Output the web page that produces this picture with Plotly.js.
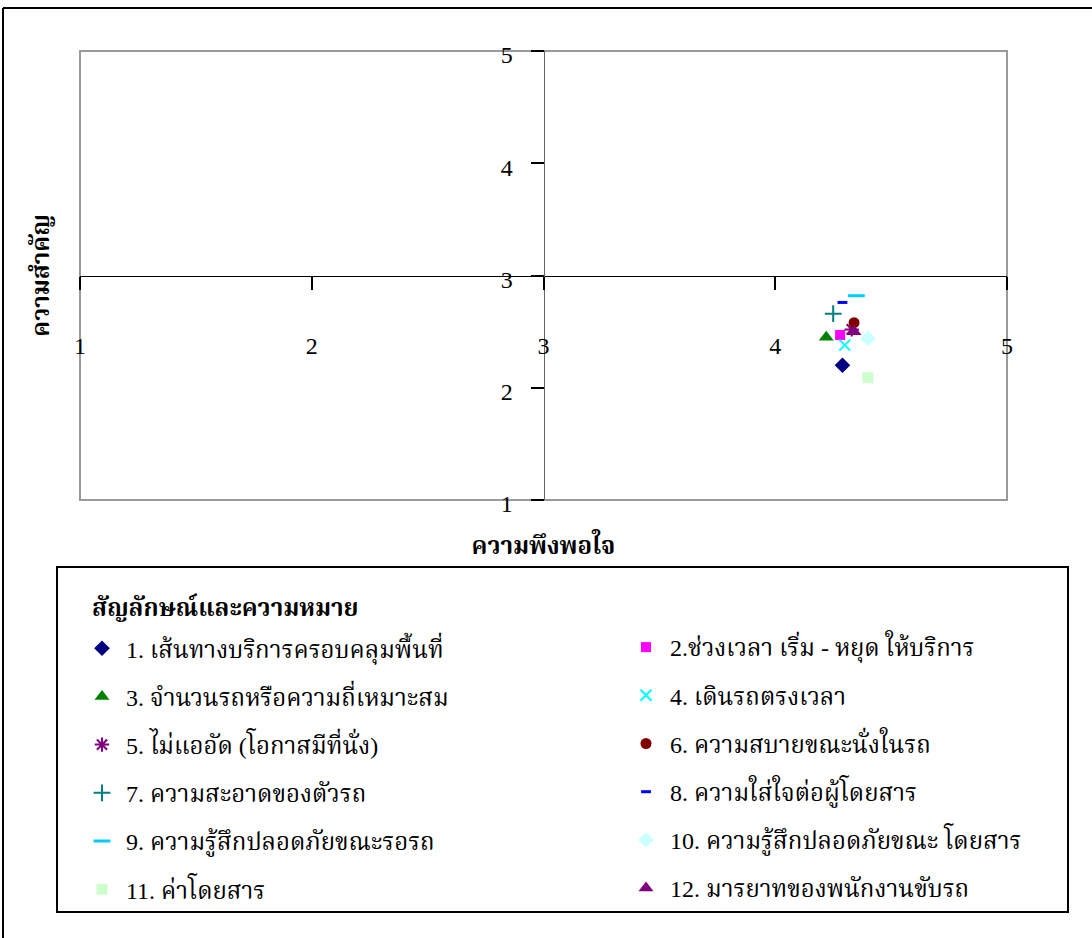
<!DOCTYPE html>
<html>
<head>
<meta charset="utf-8">
<script src="https://cdn.plot.ly/plotly-3.0.1.min.js"></script>
<style>
  html, body { margin: 0; padding: 0; background: #fff; }
  #chart { width: 1092px; height: 938px; }
</style>
</head>
<body>
<div id="chart"></div>
<script>
// ---- data ----
const itemNames = [
  "1. เส้นทางบริการครอบคลุมพื้นที่",
  "2.ช่วงเวลา เริ่ม - หยุด ให้บริการ",
  "3. จำนวนรถหรือความถี่เหมาะสม",
  "4. เดินรถตรงเวลา",
  "5. ไม่แออัด (โอกาสมีที่นั่ง)",
  "6. ความสบายขณะนั่งในรถ",
  "7. ความสะอาดของตัวรถ",
  "8. ความใส่ใจต่อผู้โดยสาร",
  "9. ความรู้สึกปลอดภัยขณะรอรถ",
  "10. ความรู้สึกปลอดภัยขณะ โดยสาร",
  "11. ค่าโดยสาร",
  "12. มารยาทของพนักงานขับรถ"
];
const satisfaction = [4.29, 4.28, 4.22, 4.30, 4.33, 4.34, 4.25, 4.29, 4.35, 4.40, 4.40, 4.34];
const importance   = [2.20, 2.47, 2.45, 2.38, 2.52, 2.58, 2.66, 2.76, 2.82, 2.44, 2.09, 2.50];
const tickValues = [1, 2, 3, 4, 5];
const tickLabels = ["1", "2", "3", "4", "5"];
const xTitle = "ความพึงพอใจ";
const yTitle = "ความสำคัญ";
const legendTitle = "สัญลักษณ์และความหมาย";

// ---- styles ----
const markerStyles = [
  {symbol: "diamond", size: 12, color: "#000080"},
  {symbol: "square", size: 10, color: "#FF00FF"},
  {symbol: "triangle-up", size: 13, color: "#008000"},
  {symbol: "x-thin", size: 11, color: "#00FFFF", line: {color: "#00FFFF", width: 2}},
  {symbol: "asterisk", size: 12, color: "#800080", line: {color: "#800080", width: 2}},
  {symbol: "circle", size: 11, color: "#800000"},
  {symbol: "cross-thin", size: 12, color: "#008080", line: {color: "#008080", width: 2}},
  {symbol: "line-ew", size: 7, color: "#0000FF", line: {color: "#0000FF", width: 3}},
  {symbol: "line-ew", size: 12, color: "#00CCFF", line: {color: "#00CCFF", width: 3}},
  {symbol: "diamond", size: 12, color: "#CCFFFF"},
  {symbol: "square", size: 11, color: "#CCFFCC"},
  {symbol: "triangle-up", size: 13, color: "#800080"}
];

const FONT = "'Liberation Serif', 'Norasi', 'Noto Serif Thai', 'Times New Roman', 'DejaVu Serif', serif";

const traces = itemNames.map((name, i) => {
  const s = markerStyles[i];
  const marker = {symbol: s.symbol, size: s.size, color: s.color, line: s.line || {width: 0}};
  return {
    type: "scatter",
    mode: "markers",
    name: name,
    x: [satisfaction[i]],
    y: [importance[i]],
    marker: marker,
    legend: (i % 2 === 0) ? "legend" : "legend2",
    legendgroup: "g" + i,
    hoverinfo: "name+x+y"
  };
});

// plot area in pixels: left 80, right 1007, top 51, bottom 500
const PL = 80, PR = 1007, PT = 51, PB = 500;
const px = v => (v - PL) / (PR - PL);
const py = v => (PB - v) / (PB - PT);

const layout = {
  width: 1092,
  height: 938,
  margin: {l: PL, r: 1092 - PR, t: PT, b: 938 - PB},
  paper_bgcolor: "#ffffff",
  plot_bgcolor: "#ffffff",
  font: {family: FONT, size: 24, color: "#000"},
  showlegend: true,
  xaxis: {
    range: [1, 5],
    tickvals: tickValues,
    ticktext: tickLabels,
    anchor: "free",
    position: 0.5,
    showline: true,
    linecolor: "#000",
    linewidth: 1,
    showgrid: false,
    zeroline: false,
    ticks: "outside",
    ticklen: 13,
    tickcolor: "#000",
    tickwidth: 2,
    ticklabelstandoff: 36,
    tickfont: {family: FONT, size: 24, color: "#000"},
    fixedrange: true,
    title: {text: "<b>" + xTitle + "</b>", font: {family: FONT, size: 24, color: "#000"}, standoff: 178}
  },
  yaxis: {
    range: [1, 5],
    tickvals: tickValues,
    ticktext: tickLabels,
    anchor: "free",
    position: 0.5,
    showline: true,
    linecolor: "#666",
    linewidth: 1,
    showgrid: false,
    zeroline: false,
    ticks: "outside",
    ticklen: 13,
    tickcolor: "#000",
    tickwidth: 2,
    ticklabelstandoff: 13,
    ticklabelshift: 4,
    tickfont: {family: FONT, size: 24, color: "#000"},
    fixedrange: true,
    title: {text: "<b>" + yTitle + "</b>", font: {family: FONT, size: 24, color: "#000"}, standoff: 443}
  },
  legend: {
    x: px(78), xanchor: "left",
    y: py(584), yanchor: "top",
    orientation: "v",
    bgcolor: "rgba(0,0,0,0)",
    borderwidth: 0,
    tracegroupgap: 14,
    itemwidth: 38,
    itemclick: false, itemdoubleclick: false,
    font: {family: FONT, size: 24, color: "#000"},
    title: {
      text: '\u00A0<br>\u00A0<br><span style="font-size:24px">\u00A0\u00A0<b>' + legendTitle + '</b></span><br>\u00A0',
      font: {family: FONT, size: 8.1, color: "#000"},
      side: "top"
    }
  },
  legend2: {
    x: px(622), xanchor: "left",
    y: py(625), yanchor: "top",
    orientation: "v",
    bgcolor: "rgba(0,0,0,0)",
    borderwidth: 0,
    tracegroupgap: 14,
    itemwidth: 38,
    itemclick: false, itemdoubleclick: false,
    font: {family: FONT, size: 24, color: "#000"}
  },
  shapes: [
    // plot-area frame
    {type: "rect", xref: "paper", yref: "paper", x0: 0, x1: 1, y0: 0, y1: 1,
     line: {color: "#9a9a9a", width: 2}, layer: "below"},
    // legend frame
    {type: "rect", xref: "paper", yref: "paper", x0: px(57), x1: px(1068), y0: py(912), y1: py(567),
     line: {color: "#000", width: 2}},
    // outer chart frame (top and left edges visible)
    {type: "line", xref: "paper", yref: "paper", x0: px(3), x1: px(1092), y0: py(8), y1: py(8),
     line: {color: "#000", width: 2}},
    {type: "line", xref: "paper", yref: "paper", x0: px(3), x1: px(3), y0: py(8), y1: py(938),
     line: {color: "#000", width: 2}}
  ]
};

Plotly.newPlot("chart", traces, layout, {displayModeBar: false});
</script>
</body>
</html>
